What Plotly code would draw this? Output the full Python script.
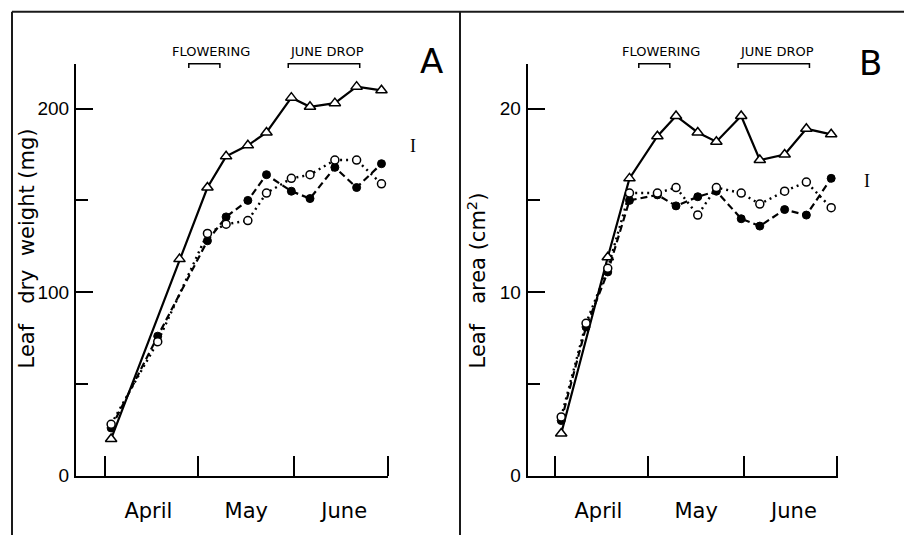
import plotly.graph_objects as go

# ---------------- data ----------------
# sampling days (days after 1 April)
days = [2, 10, 17, 24, 33, 39, 46, 52, 60, 66, 74, 81, 89]

# Panel A: leaf dry weight (mg)
a_triangle = [20, None, None, 118, 157, 174, 180, 187, 206, 201, 203, 212, 210]
a_filled   = [26, None, 76, None, 128, 141, 150, 164, 155, 151, 168, 157, 170]
a_open     = [28, None, 73, None, 132, 137, 139, 154, 162, 164, 172, 172, 159]

# Panel B: leaf area (cm2)
b_triangle = [2.3, None, 11.9, 16.2, 18.5, 19.6, 18.7, 18.2, 19.6, 17.2, 17.5, 18.9, 18.6]
b_filled   = [3.0, 8.1, 11.1, 15.0, 15.3, 14.7, 15.2, 15.5, 14.0, 13.6, 14.5, 14.2, 16.2]
b_open     = [3.2, 8.3, 11.3, 15.4, 15.4, 15.7, 14.2, 15.7, 15.4, 14.8, 15.5, 16.0, 14.6]

month_bounds = [0, 30, 61, 91]
month_label_pos = [14, 45.5, 77]
month_labels = ["April", "May", "June"]

a_yticks = [0, 100, 200]
a_yminor = [50, 150]
b_yticks = [0, 10, 20]
b_yminor = [5, 15]

flowering = [27, 37]
june_drop = [59, 82]
flowering_label_x = 34
june_drop_label_x = 71.5

# ---------------- figure ----------------
W, H = 904, 546
fig = go.Figure()

def add_series(xa, ya, tri, fil, opn):
    fig.add_trace(go.Scatter(
        x=days, y=tri, xaxis=xa, yaxis=ya, mode="lines+markers", connectgaps=True,
        line=dict(color="black", width=2.2),
        marker=dict(symbol="triangle-up", size=10, color="white",
                    line=dict(color="black", width=1.5)),
        showlegend=False, cliponaxis=False))
    fig.add_trace(go.Scatter(
        x=days, y=fil, xaxis=xa, yaxis=ya, mode="lines+markers", connectgaps=True,
        line=dict(color="black", width=2.2, dash="7px,4px"),
        marker=dict(symbol="circle", size=8, color="black",
                    line=dict(color="black", width=1)),
        showlegend=False, cliponaxis=False))
    fig.add_trace(go.Scatter(
        x=days, y=opn, xaxis=xa, yaxis=ya, mode="lines+markers", connectgaps=True,
        line=dict(color="black", width=2.4, dash="2px,4px"),
        marker=dict(symbol="circle", size=8, color="white",
                    line=dict(color="black", width=1.5)),
        showlegend=False, cliponaxis=False))

add_series("x", "y", a_triangle, a_filled, a_open)
add_series("x2", "y2", b_triangle, b_filled, b_open)

label_font = dict(family="DejaVu Sans, Noto Sans, sans-serif", size=21, color="black")
num_font = dict(family="Liberation Sans, Arial, sans-serif", size=19, color="black")

def xaxis_cfg(domain, rng, anchor):
    return dict(
        domain=domain, range=rng, anchor=anchor, showgrid=False, zeroline=False,
        showline=True, linecolor="black", linewidth=2,
        tickmode="array", tickvals=month_label_pos, ticktext=month_labels,
        ticks="", tickfont=label_font, ticklabelstandoff=15,
        minor=dict(tickmode="array", tickvals=month_bounds, ticks="inside",
                   ticklen=20, tickwidth=2, tickcolor="black", showgrid=False),
        fixedrange=True)

def yaxis_cfg(domain, rng, xa, tv, mv):
    return dict(
        domain=domain, range=rng, anchor=xa, showgrid=False, zeroline=False,
        showline=True, linecolor="black", linewidth=2,
        tickmode="array", tickvals=tv, ticks="inside", ticklen=17, tickwidth=2,
        tickcolor="black", tickfont=num_font, ticklabelstandoff=1,
        minor=dict(tickmode="array", tickvals=mv, ticks="inside",
                   ticklen=12, tickwidth=2, tickcolor="black", showgrid=False),
        fixedrange=True)

ydom = [1 - 485.4 / H, 1 - 65 / H]
fig.update_layout(
    width=W, height=H, margin=dict(l=0, r=0, t=0, b=0),
    paper_bgcolor="white", plot_bgcolor="rgba(0,0,0,0)",
    xaxis=xaxis_cfg([76 / W, 388 / W], [-9.3, 91.1], "y"),
    yaxis=yaxis_cfg(ydom, [0, 224.5], "x", a_yticks, a_yminor),
    xaxis2=xaxis_cfg([527.7 / W, 837.7 / W], [-8.8, 91.1], "y2"),
    yaxis2=yaxis_cfg(ydom, [0, 22.45], "x2", b_yticks, b_yminor),
)

# ---------------- annotations ----------------
nb = "\u00a0"
small_font = dict(family="DejaVu Sans, sans-serif", size=13, color="black")
annots = []
shapes = []
br_top = 1 - 65 / H
br_bot = 1 - 69.5 / H
txt_y = 1 - 53 / H
for xr in ("x", "x2"):
    for rng_, lx, txt in ((flowering, flowering_label_x, "FLOWERING"),
                          (june_drop, june_drop_label_x, "JUNE DROP")):
        shapes.append(dict(type="path", xref=xr, yref="paper",
                           path=f"M {rng_[0]},{br_bot} L {rng_[0]},{br_top} L {rng_[1]},{br_top} L {rng_[1]},{br_bot}",
                           line=dict(color="black", width=1.5)))
        annots.append(dict(x=lx, y=txt_y, xref=xr, yref="paper", text=txt,
                           showarrow=False, font=small_font, xanchor="center", yanchor="middle"))

# panel letters
annots.append(dict(x=431 / W, y=1 - 40 / H, xref="paper", yref="paper", text="A", showarrow=False,
                   font=dict(family="DejaVu Sans, sans-serif", size=34, color="black")))
annots.append(dict(x=884 / W, y=1 - 42 / H, xref="paper", yref="paper", text="B", showarrow=False,
                   font=dict(family="DejaVu Sans, sans-serif", size=34, color="black")))

# LSD bars
serif = dict(family="Liberation Serif, DejaVu Serif, serif", size=18, color="black")
annots.append(dict(x=413 / W, y=1 - 137 / H, xref="paper", yref="paper", text="I",
                   showarrow=False, font=serif))
annots.append(dict(x=872 / W, y=1 - 185 / H, xref="paper", yref="paper", text="I",
                   showarrow=False, font=serif))

# axis titles
title_font = dict(family="DejaVu Sans, sans-serif", size=21, color="black")
annots.append(dict(x=27 / W, y=1 - 378 / H, xref="paper", yref="paper",
                   text=f"Leaf{nb*3}dry{nb}{nb}weight{nb}(mg)", textangle=-90,
                   showarrow=False, font=title_font, xanchor="center", yanchor="bottom"))
annots.append(dict(x=477 / W, y=1 - 378 / H, xref="paper", yref="paper",
                   text=f"Leaf{nb*3}area{nb}(cm<sup>2</sup>)", textangle=-90,
                   showarrow=False, font=title_font, xanchor="center", yanchor="bottom"))

# frame
fl = dict(color="#1a1a1a", width=2)
shapes.append(dict(type="line", xref="paper", yref="paper", x0=12 / W, x1=12 / W, y0=0, y1=1 - 12 / H, line=fl))
shapes.append(dict(type="line", xref="paper", yref="paper", x0=12 / W, x1=1, y0=1 - 12 / H, y1=1 - 12 / H, line=fl))
shapes.append(dict(type="line", xref="paper", yref="paper", x0=460 / W, x1=460 / W, y0=0, y1=1 - 12 / H, line=fl))

fig.update_layout(annotations=annots, shapes=shapes)
fig.write_html("out.html")
